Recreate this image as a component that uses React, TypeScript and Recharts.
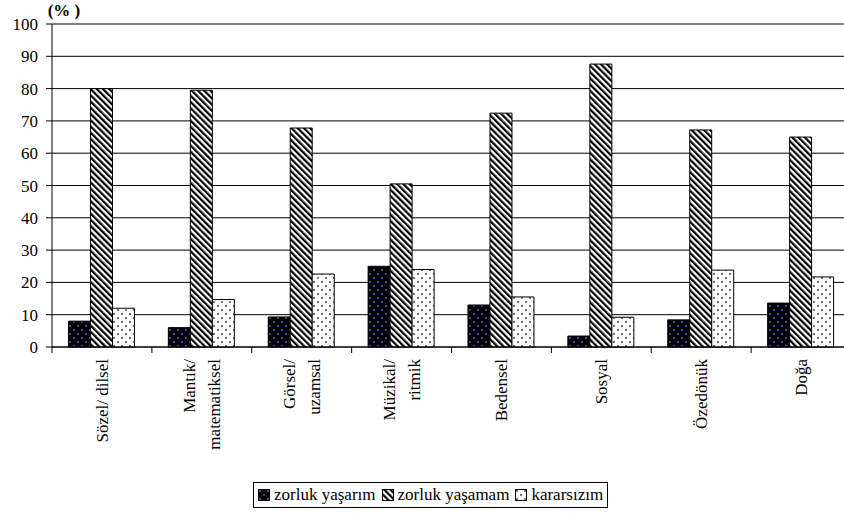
import React from 'react';
import { BarChart, Bar, XAxis, YAxis, CartesianGrid, Legend } from 'recharts';

const categories = ['Sözel/ dilsel', 'Mantık/\nmatematiksel', 'Görsel/\nuzamsal', 'Müzikal/\nritmik', 'Bedensel', 'Sosyal', 'Özedönük', 'Doğa'];
const zorlukYasarim = [8, 6, 9.3, 25, 13, 3.4, 8.4, 13.6];
const zorlukYasamam = [80, 79.5, 67.8, 50.5, 72.4, 87.6, 67.2, 65];
const kararsizim = [12, 14.7, 22.6, 24, 15.5, 9.2, 23.8, 21.7];
const yTicks = [0, 10, 20, 30, 40, 50, 60, 70, 80, 90, 100];

const seriesNames = ['zorluk yaşarım', 'zorluk yaşamam', 'kararsızım'];
const seriesFills = ['url(#pBlack)', 'url(#pHatch)', 'url(#pDots)'];

const data = categories.map((name, i) => ({
    name,
    a: zorlukYasarim[i],
    b: zorlukYasamam[i],
    c: kararsizim[i],
}));

const FONT = 'Liberation Serif, Times New Roman, Times, DejaVu Serif, serif';
const CHART_W = 860;
const CHART_H = 520;
const MARGIN = { top: 24, right: 9, left: 0, bottom: 0 };
const Y_W = 52;
const HALF_BAND = (CHART_W - MARGIN.left - MARGIN.right - Y_W) / categories.length / 2;

const CategoryTick = (props: any) => {
    const { x, y, payload } = props;
    const lines: string[] = String(payload.value).split('\n');
    const lh = 25;
    return (
        <g>
            <line x1={x - HALF_BAND} x2={x - HALF_BAND} y1={y - 8} y2={y - 2} stroke="#000" />
            <text transform={`translate(${x},${y + 4}) rotate(-90)`} textAnchor="end" fontFamily={FONT} fontSize={17} fill="#000">
                {lines.map((l, i) => (
                    <tspan key={i} x={0} y={(i - (lines.length - 1) / 2) * lh} dy="0.35em">{l}</tspan>
                ))}
            </text>
        </g>
    );
};

const LegendBox = () => (
    <div style={{ display: 'inline-flex', alignItems: 'center', border: '1px solid #000', padding: '2px 4px', fontFamily: FONT, fontSize: 17, color: '#000', background: '#fff', whiteSpace: 'nowrap' }}>
        {seriesNames.map((n, i) => (
            <span key={n} style={{ display: 'inline-flex', alignItems: 'center', marginRight: i < 2 ? 6 : 0 }}>
                <svg width={12} height={12} style={{ marginRight: 4 }}>
                    <rect x={0.5} y={0.5} width={11} height={11} fill={seriesFills[i]} stroke="#000" />
                </svg>
                {n}
            </span>
        ))}
    </div>
);

export default function App() {
    return (
        <div style={{ position: 'absolute', left: 0, top: 0, width: 844, height: 520, overflow: 'hidden', background: '#fff' }}>
            <BarChart width={CHART_W} height={CHART_H} data={data} margin={MARGIN} barCategoryGap="16.5%" barGap={0}>
                <defs>
                    <pattern id="pBlack" patternUnits="userSpaceOnUse" width={8} height={8}>
                        <rect width={8} height={8} fill="#000" />
                        <circle cx={2} cy={2} r={0.9} fill="#6a6ae0" />
                        <circle cx={6} cy={6} r={0.9} fill="#6a6ae0" />
                    </pattern>
                    <pattern id="pHatch" patternUnits="userSpaceOnUse" width={4.4} height={4.4} patternTransform="rotate(-45)">
                        <rect width={4.4} height={4.4} fill="#fff" />
                        <rect width={2.2} height={4.4} fill="#000" />
                    </pattern>
                    <pattern id="pDots" patternUnits="userSpaceOnUse" width={8} height={8}>
                        <rect width={8} height={8} fill="#fff" />
                        <circle cx={2} cy={2} r={0.9} fill="#333" />
                        <circle cx={6} cy={6} r={0.9} fill="#333" />
                    </pattern>
                </defs>
                <CartesianGrid vertical={false} stroke="#000" />
                <XAxis dataKey="name" interval={0} height={147} tickLine={false} axisLine={{ stroke: '#000' }} tick={<CategoryTick />} />
                <YAxis
                    width={Y_W}
                    domain={[0, 100]}
                    ticks={yTicks}
                    interval={0}
                    tickSize={6}
                    tickMargin={8}
                    axisLine={{ stroke: '#000' }}
                    tickLine={{ stroke: '#000' }}
                    tick={{ fill: '#000', fontFamily: FONT, fontSize: 17 }}
                    label={{ value: '(% )', position: 'top', offset: 8, dx: 38, fill: '#000', fontFamily: FONT, fontSize: 17, fontWeight: 'bold' }}
                />
                <Legend verticalAlign="bottom" content={<LegendBox />} wrapperStyle={{ left: 253, bottom: 12, width: 'auto' }} />
                <Bar dataKey="a" name={seriesNames[0]} fill={seriesFills[0]} stroke="#000" isAnimationActive={false} />
                <Bar dataKey="b" name={seriesNames[1]} fill={seriesFills[1]} stroke="#000" isAnimationActive={false} />
                <Bar dataKey="c" name={seriesNames[2]} fill={seriesFills[2]} stroke="#000" isAnimationActive={false} />
            </BarChart>
        </div>
    );
}
